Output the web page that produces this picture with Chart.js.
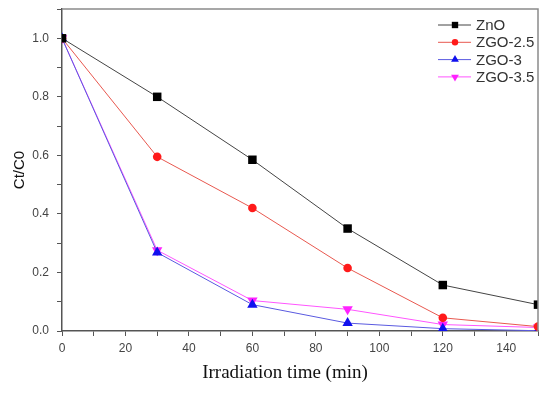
<!DOCTYPE html>
<html>
<head>
<meta charset="utf-8">
<script src="https://cdn.jsdelivr.net/npm/chart.js@4/dist/chart.umd.min.js"></script>
<style>
  html, body { margin: 0; padding: 0; background: #fff; }
  #wrap { width: 550px; height: 394px; }
</style>
</head>
<body>
<div id="wrap"><canvas id="chart" width="550" height="394"></canvas></div>
<script>
// irradiation time (min)
const times = [0, 30, 60, 90, 120, 150];

// Ct/C0 values
const zno    = [1.0, 0.80, 0.585, 0.35, 0.157, 0.09];
const zgo25  = [1.0, 0.595, 0.42, 0.215, 0.045, 0.015];
const zgo3   = [1.0, 0.268, 0.09, 0.027, 0.008, 0.001];
const zgo35  = [1.0, 0.276, 0.104, 0.074, 0.022, 0.012];

const seriesNames = ["ZnO", "ZGO-2.5", "ZGO-3", "ZGO-3.5"];
const xTitle = "Irradiation time (min)";

function pts(vals) {
  return times.map((t, i) => ({ x: t, y: vals[i] }));
}

// frame on the top and right, x title, legend inside the plot
const framePlugin = {
  id: "frame",
  afterDraw(chart) {
    const ctx = chart.ctx;
    const a = chart.chartArea;
    ctx.save();
    ctx.strokeStyle = "#8a8a8a";
    ctx.lineWidth = 1.5;
    ctx.beginPath();
    ctx.moveTo(a.left, a.top);
    ctx.lineTo(a.right, a.top);
    ctx.lineTo(a.right, a.bottom);
    ctx.stroke();

    // x axis title (sits a bit left of centre in the original)
    ctx.fillStyle = "#111";
    ctx.font = "19px 'Liberation Serif', 'Times New Roman', serif";
    ctx.textAlign = "center";
    ctx.textBaseline = "middle";
    ctx.fillText(xTitle, 285, 373);

    // legend
    const x0 = 438, y0 = 25, rowH = 17.3;
    chart.data.datasets.forEach((ds, i) => {
      const y = y0 + i * rowH;
      ctx.strokeStyle = ds.borderColor;
      ctx.lineWidth = 1;
      ctx.beginPath();
      ctx.moveTo(x0, y);
      ctx.lineTo(x0 + 33, y);
      ctx.stroke();
      ctx.fillStyle = ds.pointBackgroundColor;
      Chart.helpers.drawPoint(ctx, {
        pointStyle: ds.pointStyle,
        radius: ds.pointRadius * 0.75,
        rotation: ds.pointRotation || 0,
        borderWidth: 0
      }, x0 + 17, y);
      ctx.fillStyle = "#333";
      ctx.font = "15px 'Liberation Sans', Arial, sans-serif";
      ctx.textBaseline = "middle";
      ctx.textAlign = "left";
      ctx.fillText(ds.label, x0 + 38, y + 1);
    });
    ctx.restore();
  }
};

const makeSet = (label, vals, line, fill, style, r, rot) => ({
  label: label,
  data: pts(vals),
  borderColor: line,
  borderWidth: 1,
  backgroundColor: fill,
  pointBackgroundColor: fill,
  pointBorderColor: fill,
  pointBorderWidth: 0,
  pointStyle: style,
  pointRadius: r,
  pointRotation: rot,
  tension: 0
});

new Chart(document.getElementById("chart"), {
  type: "line",
  data: {
    datasets: [
      makeSet(seriesNames[0], zno, "#444444", "#000000", "rect", 6, 0),
      makeSet(seriesNames[1], zgo25, "#e8584f", "#ff1a1a", "circle", 4.3, 0),
      makeSet(seriesNames[2], zgo3, "#5a5ae0", "#1010ee", "triangle", 6, 0),
      makeSet(seriesNames[3], zgo35, "#ff55ff", "#ff22ff", "triangle", 6, 180)
    ]
  },
  plugins: [framePlugin],
  options: {
    responsive: false,
    animation: false,
    layout: { padding: { left: 0, right: 12, top: 9, bottom: 0 } },
    plugins: {
      legend: { display: false },
      tooltip: { enabled: false }
    },
    scales: {
      x: {
        type: "linear",
        min: 0,
        max: 150,
        afterFit(s) { s.height = 63; s.paddingLeft = 0; s.paddingRight = 0; },
        border: { display: true, color: "#555", width: 1.5 },
        grid: { drawOnChartArea: false, drawTicks: true, tickLength: 5, color: "#555" },
        ticks: {
          stepSize: 10,
          padding: 5,
          color: "#444",
          font: { family: "'Liberation Sans', Arial, sans-serif", size: 12 },
          callback: v => (v % 20 === 0 && v < 150 ? String(v) : "")
        },
        title: { display: false }
      },
      y: {
        min: 0,
        max: 1.1,
        afterFit(s) { s.width = 62; s.paddingTop = 0; s.paddingBottom = 0; },
        border: { display: true, color: "#555", width: 1.5 },
        grid: { drawOnChartArea: false, drawTicks: true, tickLength: 5, color: "#555" },
        ticks: {
          stepSize: 0.1,
          padding: 8,
          color: "#444",
          font: { family: "'Liberation Sans', Arial, sans-serif", size: 12 },
          callback: v => {
            const k = Math.round(v * 10);
            return k % 2 === 0 && k <= 10 ? (k / 10).toFixed(1) : "";
          }
        },
        title: {
          display: true,
          text: "Ct/C0",
          color: "#111",
          font: { family: "'Liberation Sans', Arial, sans-serif", size: 15 },
          padding: { top: 11, bottom: 0 }
        }
      }
    }
  }
});
</script>
</body>
</html>
